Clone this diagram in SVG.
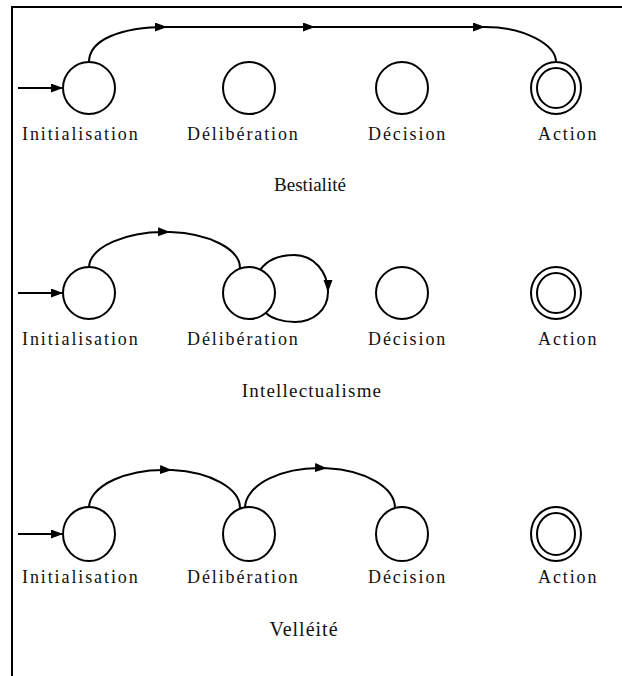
<svg xmlns="http://www.w3.org/2000/svg" width="622" height="676" viewBox="0 0 622 676">
<style>
.st{fill:#fff;stroke:#000;stroke-width:2}
.c{fill:none;stroke:#000;stroke-width:2}
.lb{font-family:"Liberation Serif","Times New Roman",serif;font-size:18px;letter-spacing:1.9px;fill:#111}
.tt{font-family:"Liberation Serif","Times New Roman",serif;font-size:19px;fill:#111;text-anchor:middle}
</style>
<defs>
<marker id="ah" markerUnits="userSpaceOnUse" markerWidth="13" markerHeight="10" refX="12" refY="4.5" orient="auto">
<path d="M0,0 L12,4.5 L0,9 z" fill="#000"/>
</marker>
</defs>
<rect width="622" height="676" fill="#fff"/>
<path d="M12,676 V7 H622" fill="none" stroke="#000" stroke-width="2"/>

<g id="connectors">
<!-- row 1 -->
<path class="c" d="M18,88 H63" marker-end="url(#ah)"/>
<path class="c" d="M89,62 C89,40 120,27 167,27" marker-end="url(#ah)"/>
<path class="c" d="M167,27 H315" marker-end="url(#ah)"/>
<path class="c" d="M315,27 H485" marker-end="url(#ah)"/>
<path class="c" d="M485,27 C525,27 556,45 556,62"/>
<!-- row 2 -->
<path class="c" d="M18,293 H63" marker-end="url(#ah)"/>
<path class="c" d="M89,268 A75.5,36 0 0 1 170,232.1" marker-end="url(#ah)"/>
<path class="c" d="M170,232.1 A75.5,36 0 0 1 240,268"/>
<path class="c" d="M260,270 C268,259 280,255 294,255 C314,255 328,272 328,292" marker-end="url(#ah)"/>
<path class="c" d="M328,292 C328,310 313,322 295,322 C282,322 271,318 266,313"/>
<!-- row 3 -->
<path class="c" d="M18,534 H63" marker-end="url(#ah)"/>
<path class="c" d="M89,508 A75.5,38 0 0 1 172,470.1" marker-end="url(#ah)"/>
<path class="c" d="M172,470.1 A75.5,38 0 0 1 240,508"/>
<path class="c" d="M245,508 A75,40 0 0 1 327,468.2" marker-end="url(#ah)"/>
<path class="c" d="M327,468.2 A75,40 0 0 1 395,508"/>
</g>

<!-- Row 1: Bestialité -->
<g id="r1-init"><circle class="st" cx="89" cy="88" r="26"/><text class="lb" x="22" y="140">Initialisation</text></g>
<g id="r1-delib"><circle class="st" cx="249" cy="88" r="26"/><text class="lb" x="187" y="140">Délibération</text></g>
<g id="r1-dec"><circle class="st" cx="402" cy="88" r="26"/><text class="lb" x="368" y="140">Décision</text></g>
<g id="r1-act"><ellipse class="st" cx="556" cy="88" rx="25" ry="26"/><ellipse class="st" cx="556" cy="88" rx="19" ry="20"/><text class="lb" x="538" y="140">Action</text></g>
<text class="tt" x="310" y="191">Bestialité</text>

<!-- Row 2: Intellectualisme -->
<g id="r2-init"><circle class="st" cx="89" cy="293" r="26"/><text class="lb" x="22" y="345">Initialisation</text></g>
<g id="r2-delib"><circle class="st" cx="249" cy="293" r="26"/><text class="lb" x="187" y="345">Délibération</text></g>
<g id="r2-dec"><circle class="st" cx="402" cy="293" r="26"/><text class="lb" x="368" y="345">Décision</text></g>
<g id="r2-act"><ellipse class="st" cx="556" cy="293" rx="25" ry="26"/><ellipse class="st" cx="556" cy="293" rx="19" ry="20"/><text class="lb" x="538" y="345">Action</text></g>
<text class="tt" x="312" y="397" style="letter-spacing:1.2px">Intellectualisme</text>

<!-- Row 3: Velléité -->
<g id="r3-init"><ellipse class="st" cx="89" cy="534" rx="26" ry="27"/><text class="lb" x="22" y="583">Initialisation</text></g>
<g id="r3-delib"><ellipse class="st" cx="249" cy="534" rx="26" ry="27"/><text class="lb" x="187" y="583">Délibération</text></g>
<g id="r3-dec"><ellipse class="st" cx="402" cy="534" rx="26" ry="27"/><text class="lb" x="368" y="583">Décision</text></g>
<g id="r3-act"><ellipse class="st" cx="556" cy="534" rx="25" ry="27"/><ellipse class="st" cx="556" cy="534" rx="19" ry="21"/><text class="lb" x="538" y="583">Action</text></g>
<text class="tt" x="304" y="636" style="font-size:20px;letter-spacing:1px">Velléité</text>
</svg>
